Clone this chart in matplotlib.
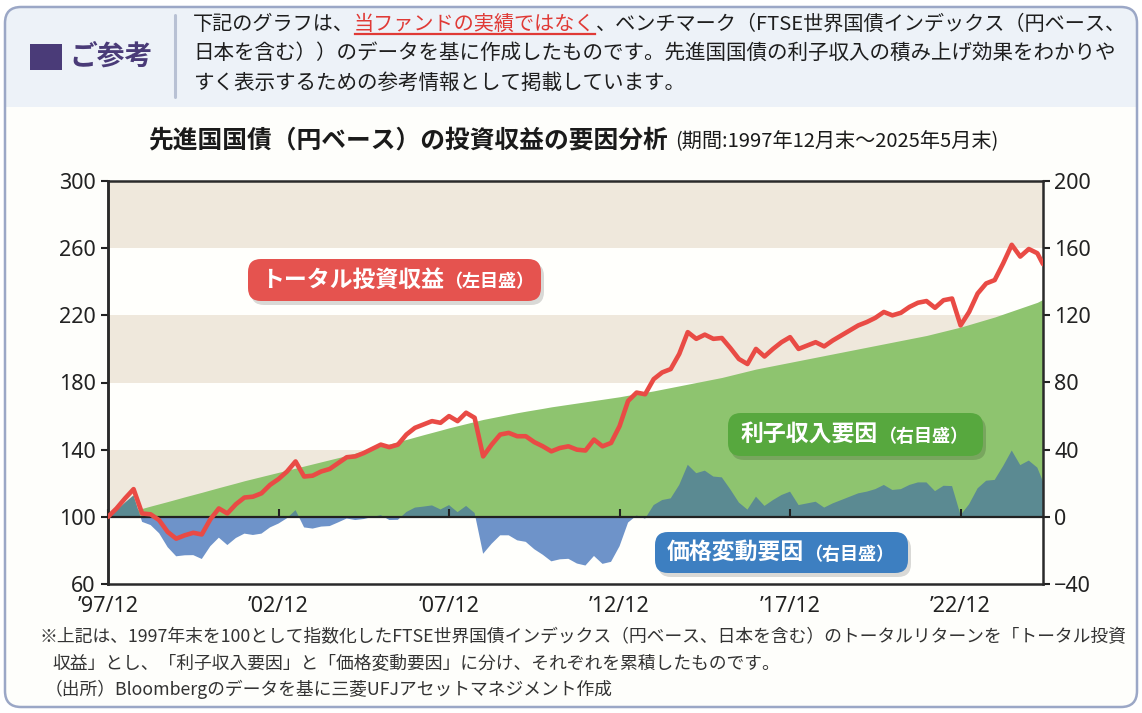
import numpy as np
import pandas as pd
import matplotlib
matplotlib.use("Agg")
import matplotlib.pyplot as plt
from matplotlib.patches import FancyBboxPatch, Rectangle

plt.rcParams['font.family'] = ['Noto Sans CJK JP', 'DejaVu Sans']

# ---------------- data (quarter ends, Dec-1997 .. Mar-2025, plus May-2025) ----------------
quarter_ends = list(pd.date_range("1997-12-31", "2025-03-31", freq="3ME")) + [pd.Timestamp("2025-05-31")]

# トータル投資収益 (left axis, 1997/12 = 100)
total_return = [
    100, 105, 111, 116.5, 102, 101.5, 98, 91, 87, 89,
    90.5, 89.5, 98.5, 105, 102, 107.5, 111.5, 112, 114, 119,
    122.5, 127, 133, 124, 124.5, 127, 128.5, 132, 135.5, 136,
    138, 140.5, 143, 141.5, 143, 149, 153, 155, 157, 156,
    160, 157, 162, 159, 136, 143, 149, 150, 148, 148,
    144.5, 142, 139, 141, 142, 140, 139.5, 146, 142, 144,
    154, 169, 174, 173, 182, 186, 188, 197, 210, 206,
    208.5, 206, 206.5, 200.5, 194, 191, 200, 195.5, 200, 204,
    207, 200, 202, 204, 201.5, 205, 208, 211, 214, 216,
    218.5, 222, 220, 221.5, 225, 227.5, 228.5, 224.5, 229, 230,
    214, 222, 233, 239, 241, 251, 262, 255, 259.5, 257,
    250.5]

# 利子収入要因 (right axis)
interest_factor = [
    0, 1.25, 2.5, 3.75, 5, 6.4, 7.75, 9.1, 10.5, 11.9,
    13.25, 14.6, 16, 17.4, 18.75, 20.1, 21.5, 22.75, 24, 25.25,
    26.5, 27.75, 29, 30.25, 31.5, 32.75, 34, 35.25, 36.5, 37.9,
    39.25, 40.6, 42, 43.4, 44.75, 46.1, 47.5, 48.9, 50.25, 51.6,
    53, 54.25, 55.5, 56.75, 58, 59, 60, 61, 62, 62.9,
    63.75, 64.6, 65.5, 66.25, 67, 67.75, 68.5, 69.25, 70, 70.75,
    71.5, 72.4, 73.25, 74.1, 75, 76, 77, 78, 79, 80,
    81, 82, 83, 84.25, 85.5, 86.75, 88, 89, 90, 91,
    92, 93, 94, 95, 96, 97, 98, 99, 100, 101,
    102, 103, 104, 105, 106, 107, 108, 109.25, 110.5, 111.75,
    113, 114.5, 116, 117.5, 119, 120.75, 122.5, 124.25, 126, 127.75,
    129.5]

# 価格変動要因 (right axis)
price_factor = [
    0, 3.8, 8.5, 12.8, -3, -4.9, -9.8, -18.1, -23.5, -22.9,
    -22.8, -25.1, -17.5, -12.4, -16.8, -12.6, -10, -10.8, -10, -6.3,
    -4, -0.8, 4, -6.3, -7, -5.8, -5.5, -3.3, -1, -1.9,
    -1.3, -0.1, 1, -1.9, -1.8, 2.9, 5.5, 6.1, 6.8, 4.4,
    7, 2.8, 6.5, 2.3, -22, -16, -11, -11, -14, -14.9,
    -19.3, -22.6, -26.5, -25.3, -25, -27.8, -29, -23.3, -28, -26.8,
    -17.5, -3.4, 0.8, -1.1, 7, 10, 11, 19, 31, 26,
    27.5, 24, 23.5, 16.3, 8.5, 4.3, 12, 6.5, 10, 13,
    15, 7, 8, 9, 5.5, 8, 10, 12, 14, 15,
    16.5, 19, 16, 16.5, 19, 20.5, 20.5, 15.3, 18.5, 18.3,
    1, 7.5, 17, 21.5, 22, 30.3, 39.5, 30.8, 33.5, 29.3,
    21]

x_tick_years = [1997, 2002, 2007, 2012, 2017, 2022]
x_tick_labels = ["\u201997/12", "\u201902/12", "\u201907/12", "\u201912/12", "\u201917/12", "\u201922/12"]
left_ticks = [60, 100, 140, 180, 220, 260, 300]
right_ticks = [-40, 0, 40, 80, 120, 160, 200]
right_tick_labels = ["\u221240", "0", "40", "80", "120", "160", "200"]

# ---------------- figure ----------------
W, H = 1142, 713
fig = plt.figure(figsize=(W / 100, H / 100), dpi=100)
fig.patch.set_facecolor('white')

bg = fig.add_axes([0, 0, 1, 1])
bg.set_zorder(0)
bg.set_xlim(0, W); bg.set_ylim(H, 0); bg.axis('off')

CREAM = '#fefefb'
bg.add_patch(FancyBboxPatch((5, 7), 1132, 700, boxstyle="round,pad=0,rounding_size=16",
                            fc=CREAM, ec='none'))
bg.add_patch(FancyBboxPatch((5, 7), 1132, 130, boxstyle="round,pad=0,rounding_size=16",
                            fc='#edf2f8', ec='none'))
bg.add_patch(Rectangle((5, 107), 1132, 40, fc=CREAM, ec='none'))
bg.add_patch(FancyBboxPatch((5, 7), 1132, 700, boxstyle="round,pad=0,rounding_size=16",
                            fc='none', ec='#9ba7c6', lw=1.8))
bg.plot([175, 175], [15, 97], color='#b8c1d4', lw=2.2, solid_capstyle='round')
bg.add_patch(Rectangle((30, 44), 32, 26, fc='#4a3b78', ec='none'))
bg.text(69, 57, "ご参考", fontsize=20, fontweight='bold', color='#4a3b78', va='center', ha='left')

# ---------------- chart axes ----------------
ax = fig.add_axes([108 / W, 1 - 584 / H, 935 / W, 403 / H])
ax2 = ax.twinx()
ax2.set_zorder(1)
ax.set_zorder(2)
ax.patch.set_visible(False)
ax2.patch.set_visible(True)
ax2.patch.set_facecolor('#fffffc')

t = np.array([d.year + d.month / 12 for d in quarter_ends])
tot = np.array(total_return)
intr = np.array(interest_factor)
pr = np.array(price_factor)

for lo, hi in zip(right_ticks[1::2], right_ticks[2::2]):
    ax2.axhspan(lo, hi, color='#efe8dc', lw=0, zorder=0)

ax2.fill_between(t, 0, intr, color='#8ec46f', lw=0, zorder=1)
ax2.fill_between(t, 0, pr, where=pr >= 0, interpolate=True, color='#5b8a92', lw=0, zorder=2)
ax2.fill_between(t, 0, pr, where=pr <= 0, interpolate=True, color='#6e93c9', lw=0, zorder=2)

ax.plot(t, tot, color='#e94b45', lw=3.3, solid_joinstyle='round', solid_capstyle='round', zorder=3)

ax.set_xlim(t[0], t[-1])
ax.set_ylim(left_ticks[0], left_ticks[-1])
ax2.set_ylim(right_ticks[0], right_ticks[-1])

TICKFS = 15.5
ax.set_yticks(left_ticks, labels=[str(v) for v in left_ticks], fontfamily='Noto Sans', fontsize=TICKFS)
ax.tick_params(axis='y', direction='out', length=5, width=1.5, pad=4, colors='#222222')
ax2.set_yticks(right_ticks, labels=right_tick_labels, fontfamily='Noto Sans', fontsize=TICKFS)
ax2.tick_params(axis='y', direction='out', length=5, width=1.5, pad=3, colors='#222222')

xt = [y + 1 for y in x_tick_years]
ax.set_xticks(xt)
ax.tick_params(axis='x', direction='in', length=6, width=1.5, labelbottom=False, color='#222222')
ax.spines['bottom'].set_position(('data', 100))
ax.spines['bottom'].set_linewidth(1.6)
ax.spines['bottom'].set_color('#222222')
ax.spines['top'].set_visible(False)
ax.spines['right'].set_visible(False)
ax.spines['left'].set_color('#2a2a2a')
ax.spines['left'].set_linewidth(1.8)

ax2.xaxis.set_visible(True)
ax2.set_xticks(xt, labels=x_tick_labels, fontfamily='Noto Sans', fontsize=TICKFS, color='#222222')
ax2.tick_params(axis='x', length=0, pad=8.5, labelbottom=True)
for sp in ax2.spines.values():
    sp.set_color('#2a2a2a')
    sp.set_linewidth(1.8)

# ---------------- overlay (texts & label boxes) ----------------
fg = fig.add_axes([0, 0, 1, 1])
fg.set_zorder(3)
fg.set_xlim(0, W); fg.set_ylim(H, 0); fg.axis('off')

TXT = '#1e1e1e'
t1 = fg.text(193, 24, "下記のグラフは、", fontsize=14.5, color=TXT, va='center', ha='left')
t2 = fg.annotate("当ファンドの実績ではなく", xy=(1, 0), xycoords=t1, va='bottom', ha='left',
                 fontsize=14.5, color='#e03a36')
t3 = fg.annotate("、ベンチマーク（FTSE世界国債インデックス（円ベース、", xy=(1, 0), xycoords=t2,
                 va='bottom', ha='left', fontsize=14.5, color=TXT)
fg.text(193, 53, "日本を含む））のデータを基に作成したものです。先進国国債の利子収入の積み上げ効果をわかりや",
        fontsize=14.8, color=TXT, va='center', ha='left')
fg.text(193, 83, "すく表示するための参考情報として掲載しています。",
        fontsize=14.8, color=TXT, va='center', ha='left')

fg.text(148, 140, "先進国国債（円ベース）の投資収益の要因分析", fontsize=17.8, fontweight='bold',
        color='#1a1a1a', va='center', ha='left')
fg.text(675, 142, "(期間:1997年12月末～2025年5月末)", fontsize=14.5, color='#1a1a1a',
        va='center', ha='left')

FN = '#333333'
fg.text(40, 637, "※上記は、1997年末を100として指数化したFTSE世界国債インデックス（円ベース、日本を含む）のトータルリターンを「トータル投資",
        fontsize=12.8, color=FN, va='center', ha='left')
fg.text(52, 663, "収益」とし、「利子収入要因」と「価格変動要因」に分け、それぞれを累積したものです。",
        fontsize=12.8, color=FN, va='center', ha='left')
fg.text(45, 689, "（出所）Bloombergのデータを基に三菱UFJアセットマネジメント作成",
        fontsize=12.8, color=FN, va='center', ha='left')


def label_box(x0, y0, x1, y1, color, main, sub, tx):
    fg.add_patch(FancyBboxPatch((x0 + 3, y0 + 4), x1 - x0, y1 - y0,
                                boxstyle="round,pad=0,rounding_size=13",
                                fc='black', ec='none', alpha=0.15))
    fg.add_patch(FancyBboxPatch((x0, y0), x1 - x0, y1 - y0,
                                boxstyle="round,pad=0,rounding_size=13",
                                fc=color, ec='none'))
    m = fg.text(tx, (y0 + y1) / 2, main, fontsize=16.5, fontweight='bold', color='white',
                va='center', ha='left')
    fg.annotate(sub, xy=(1, 0), xycoords=m, va='bottom', ha='left',
                fontsize=13, fontweight='bold', color='white')


label_box(248, 259, 541, 301, '#e5534f', "トータル投資収益", "（左目盛）", 261)
label_box(728, 413, 983, 456, '#57a83e', "利子収入要因", "（右目盛）", 741)
label_box(655, 532, 908, 573, '#3d7fc1', "価格変動要因", "（右目盛）", 667)

# underline under the red phrase
fig.canvas.draw()
ext = t2.get_window_extent()
inv = fg.transData.inverted()
(ux0, uy0), (ux1, uy1) = inv.transform([(ext.x0, ext.y0), (ext.x1, ext.y0)])
fg.plot([ux0 + 1, ux1 - 1], [uy0 - 1, uy1 - 1], color='#e03a36', lw=1.6)

fig.savefig("out.png", dpi=100)
